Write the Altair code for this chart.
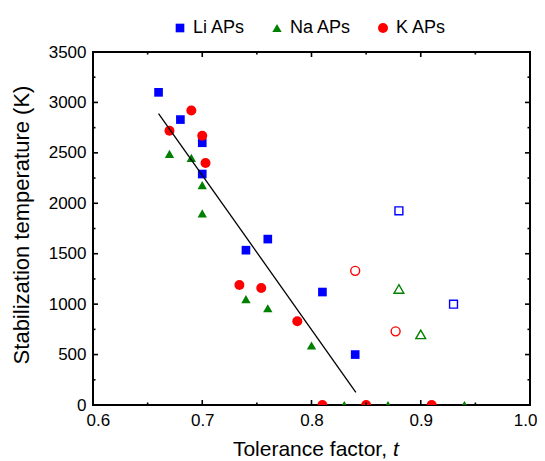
import altair as alt
import pandas as pd

# ---- data ----
series = ["Li APs", "Na APs", "K APs"]
colors = ["#0000FF", "#008000", "#FF0000"]
shapes = ["square", "triangle-up", "circle"]

li_x = [0.66, 0.68, 0.70, 0.70, 0.74, 0.76, 0.81, 0.84]
li_y = [3100, 2830, 2600, 2290, 1535, 1645, 1120, 500]
li_open_x = [0.88, 0.93]
li_open_y = [1925, 1000]

na_x = [0.67, 0.69, 0.70, 0.70, 0.74, 0.76, 0.80, 0.83, 0.87, 0.94]
na_y = [2490, 2450, 2180, 1900, 1050, 960, 590, 0, 0, 0]
na_open_x = [0.88, 0.90]
na_open_y = [1150, 700]

k_x = [0.67, 0.69, 0.70, 0.703, 0.734, 0.754, 0.787, 0.81, 0.85, 0.91]
k_y = [2720, 2920, 2670, 2400, 1190, 1160, 830, 0, 0, 0]
k_open_x = [0.84, 0.877]
k_open_y = [1330, 730]

fit_x = [0.66, 0.8406]
fit_y = [2890, 126]

x_major = [0.6, 0.7, 0.8, 0.9, 1.0]
x_minor = [0.65, 0.75, 0.85, 0.95]
y_major = [0, 500, 1000, 1500, 2000, 2500, 3000, 3500]
y_minor = [250, 750, 1250, 1750, 2250, 2750, 3250]

x_title = "Tolerance factor,"
x_title_italic = "t"
y_title = "Stabilization temperature (K)"

# ---- layout / style ----
W, H = 437, 353
FONT = "Liberation Sans"
filled_sizes = [75, 100, 86]
open_sizes = [62, 96, 80]

xs = alt.Scale(domain=[0.6, 1.0], nice=False, zero=False)
ys = alt.Scale(domain=[0, 3500], nice=False, zero=False)
ax_x = alt.Axis(values=x_major, format=".1f", ticks=False, domain=False, grid=False,
                labelPadding=7, labelFlush=True, labelFlushOffset=7, title=None)
ax_y = alt.Axis(values=y_major, format="d", ticks=False, domain=False, grid=False,
                labelPadding=7, labelFlush=False, title=None)
X = lambda f: alt.X(f, scale=xs, axis=ax_x)
Y = lambda f: alt.Y(f, scale=ys, axis=ax_y)

filled = pd.DataFrame({
    "t": li_x + na_x + k_x,
    "T": li_y + na_y + k_y,
    "s": [series[0]] * len(li_x) + [series[1]] * len(na_x) + [series[2]] * len(k_x),
})

leg = alt.Legend(
    orient="none", legendX=78, legendY=-33, direction="horizontal", title=None,
    labelFontSize=18, labelFont=FONT, labelColor="black",
    symbolSize=alt.ExprRef(expr="datum.value === 'Na APs' ? 125 : (datum.value === 'K APs' ? 66 : 50)"),
    symbolStrokeWidth=0, labelOffset=4, columnPadding=22, padding=0,
)

pts = alt.Chart(filled).mark_point(filled=True, opacity=1, clip=True).encode(
    x=X("t:Q"), y=Y("T:Q"),
    color=alt.Color("s:N", scale=alt.Scale(domain=series, range=colors), legend=leg),
    shape=alt.Shape("s:N", scale=alt.Scale(domain=series, range=shapes), legend=leg),
    size=alt.Size("s:N", scale=alt.Scale(domain=series, range=filled_sizes), legend=None),
)

def open_layer(xv, yv, i):
    df = pd.DataFrame({"t": xv, "T": yv})
    return alt.Chart(df).mark_point(filled=False, size=open_sizes[i], opacity=1, strokeWidth=1.4,
                                    shape=shapes[i], color=colors[i], clip=True).encode(
        x=X("t:Q"), y=Y("T:Q"))

open_li = open_layer(li_open_x, li_open_y, 0)
open_na = open_layer(na_open_x, na_open_y, 1)
open_k = open_layer(k_open_x, k_open_y, 2)

fit = alt.Chart(pd.DataFrame({"t": fit_x, "T": fit_y})).mark_line(color="black", strokeWidth=1.3).encode(
    x=X("t:Q"), y=Y("T:Q"))

def xticks(vals, length):
    base = alt.Chart(pd.DataFrame({"t": vals})).mark_rule(color="black", strokeWidth=1.6)
    return [base.encode(x=X("t:Q"), y=alt.value(H), y2=alt.value(H - length)),
            base.encode(x=X("t:Q"), y=alt.value(0), y2=alt.value(length))]

def yticks(vals, length):
    base = alt.Chart(pd.DataFrame({"T": vals})).mark_rule(color="black", strokeWidth=1.6)
    return [base.encode(y=Y("T:Q"), x=alt.value(0), x2=alt.value(length)),
            base.encode(y=Y("T:Q"), x=alt.value(W), x2=alt.value(W - length))]

ticks = xticks(x_major, 5) + xticks(x_minor, 2.5) + yticks(y_major, 5) + yticks(y_minor, 2.5)

xt1 = alt.Chart(pd.DataFrame({"lab": [x_title]})).mark_text(
    font=FONT, fontSize=21, align="right", baseline="alphabetic", color="black").encode(
    text="lab:N", x=alt.value(294), y=alt.value(404))
xt2 = alt.Chart(pd.DataFrame({"lab": [x_title_italic]})).mark_text(
    font=FONT, fontSize=21, fontStyle="italic", align="left", baseline="alphabetic", color="black").encode(
    text="lab:N", x=alt.value(300), y=alt.value(404))
yt = alt.Chart(pd.DataFrame({"lab": [y_title]})).mark_text(
    font=FONT, fontSize=22, align="center", baseline="alphabetic", angle=270, color="black").encode(
    text="lab:N", x=alt.value(-64.5), y=alt.value(173))

chart = alt.layer(pts, fit, open_li, open_na, open_k, *ticks, xt1, xt2, yt).properties(
    width=W, height=H,
    autosize=alt.AutoSizeParams(type="none"),
    padding={"left": 85, "top": 44, "right": 7, "bottom": 60},
    background="white",
).configure_view(stroke="black", strokeWidth=2).configure_axis(
    labelFont=FONT, labelFontSize=17, labelColor="black",
)

chart.save("out.html", embed_options={"renderer": "svg", "actions": False})
